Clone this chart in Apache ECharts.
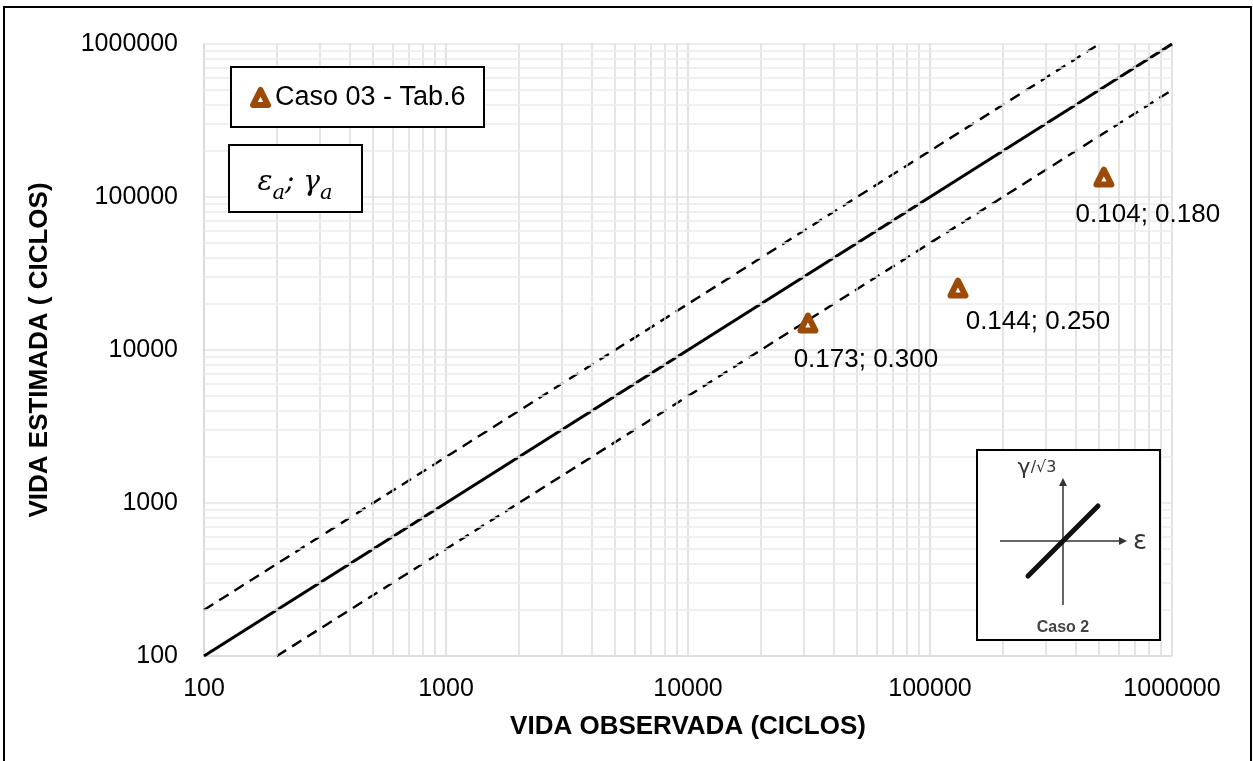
<!DOCTYPE html>
<html>
<head>
<meta charset="utf-8">
<script src="https://cdn.jsdelivr.net/npm/echarts@6/dist/echarts.min.js"></script>
<style>
  html, body { margin: 0; padding: 0; background: #fff; }
  #chart { width: 1253px; height: 761px; }
</style>
</head>
<body>
<div id="chart"></div>
<script>
// Observed vs. estimated fatigue life (cycles), log-log
const seriesName = 'Caso 03 - Tab.6';
const observedLife = [31300, 130500, 523000];
const estimatedLife = [15000, 25400, 135000];
const pointLabels = ['0.173; 0.300', '0.144; 0.250', '0.104; 0.180'];

// reference lines: 1:1 and factor-of-two bands
const lineEqual = [[100, 100], [1000000, 1000000]];
const lineUpper = [[100, 200], [500000, 1000000]];
const lineLower = [[200, 100], [1000000, 500000]];

// decades and in-decade multipliers for the minor grid
const decades = [100, 1000, 10000, 100000];
const minorSteps = [2, 3, 4, 5, 6, 7, 8, 9];

const axisTitleX = 'VIDA OBSERVADA (CICLOS)';
const axisTitleY = 'VIDA ESTIMADA ( CICLOS)';

// label placement relative to each marker centre
const labelOffsets = [[58, 40], [80, 37], [44, 41]];

const brown = '#9C4A08';
const font = "'Liberation Sans', Arial, sans-serif";
const markerSize = 15;

const markerStyle = { color: '#fff', borderColor: brown, borderWidth: 6, borderJoin: 'round', opacity: 1 };

const minorValues = [];
decades.forEach(d => minorSteps.forEach(m => minorValues.push(d * m)));

const gridLines = [].concat(
  minorValues.map(v => ({ xAxis: v, lineStyle: { color: '#dcdcdc' } })),
  minorValues.map(v => ({ yAxis: v, lineStyle: { color: '#ebebeb' } }))
);

const chart = echarts.init(document.getElementById('chart'));

const fmt = v => String(Math.round(v));

chart.setOption({
  animation: false,
  backgroundColor: '#fff',
  grid: { left: 204, right: 81, top: 44, bottom: 105, containLabel: false },
  legend: {
    data: [{ name: seriesName, icon: 'triangle', itemStyle: markerStyle }],
    left: 231, top: 67,
    orient: 'horizontal',
    padding: [17, 18, 17, 19],
    borderWidth: 0,
    itemWidth: 15, itemHeight: 15,
    textStyle: { fontFamily: font, fontSize: 27, color: '#000', padding: [0, 0, 0, 2] },
    selectedMode: false,
    z: 12
  },
  xAxis: {
    type: 'log', logBase: 10, min: 100, max: 1000000,
    name: axisTitleX, nameLocation: 'middle', nameGap: 58,
    nameTextStyle: { fontFamily: font, fontSize: 26, fontWeight: 'bold', color: '#000' },
    axisLine: { lineStyle: { color: '#d9d9d9', width: 1.5 } },
    axisTick: { show: false },
    axisLabel: { formatter: fmt, fontFamily: font, fontSize: 25, color: '#000', margin: 21 },
    splitLine: { show: true, lineStyle: { color: '#d9d9d9', width: 1.5 } }
  },
  yAxis: {
    type: 'log', logBase: 10, min: 100, max: 1000000,
    name: axisTitleY, nameLocation: 'middle', nameGap: 151, nameRotate: 90,
    nameTextStyle: { fontFamily: font, fontSize: 26, fontWeight: 'bold', color: '#000' },
    axisLine: { show: true, lineStyle: { color: '#d9d9d9', width: 1.5 } },
    axisTick: { show: false },
    axisLabel: { formatter: fmt, fontFamily: font, fontSize: 25, color: '#000', margin: 26 },
    splitLine: { show: true, lineStyle: { color: '#e4e4e4', width: 1.5 } }
  },
  series: [
    {
      // minor grid
      type: 'line', data: [], z: 1, silent: true,
      markLine: {
        silent: true, symbol: 'none', animation: false,
        label: { show: false },
        lineStyle: { type: 'solid', width: 1.5 },
        emphasis: { disabled: true },
        data: gridLines
      }
    },
    {
      type: 'line', data: lineEqual, z: 3, symbol: 'none', silent: true,
      lineStyle: { color: '#000', width: 3 }
    },
    {
      type: 'line', data: lineUpper, z: 3, symbol: 'none', silent: true,
      lineStyle: { color: '#000', width: 2.4, type: [11, 7] }
    },
    {
      type: 'line', data: lineLower, z: 3, symbol: 'none', silent: true,
      lineStyle: { color: '#000', width: 2.4, type: [11, 7] }
    },
    {
      name: seriesName,
      type: 'scatter', z: 5,
      symbol: 'triangle', symbolSize: markerSize,
      itemStyle: markerStyle,
      emphasis: { disabled: true },
      data: observedLife.map((x, i) => ({
        value: [x, estimatedLife[i]],
        label: {
          show: true, formatter: pointLabels[i], position: 'top', distance: 0,
          align: 'center', verticalAlign: 'middle',
          offset: [labelOffsets[i][0], labelOffsets[i][1] + markerSize / 2],
          fontFamily: font, fontSize: 26, color: '#000', textBorderWidth: 0
        }
      }))
    }
  ],
  graphic: [
    // outer frame
    { type: 'rect', shape: { x: 4, y: 7, width: 1247, height: 765 }, style: { fill: null, stroke: '#000', lineWidth: 2 }, silent: true },
    // legend frame
    { type: 'rect', shape: { x: 231, y: 67, width: 253, height: 60 }, style: { fill: '#fff', stroke: '#000', lineWidth: 2 }, z: 10 },
    // strain / shear label box
    { type: 'rect', shape: { x: 229, y: 145, width: 133, height: 67 }, style: { fill: '#fff', stroke: '#000', lineWidth: 2 }, z: 10 },
    {
      type: 'text', x: 295, y: 180, z: 11,
      style: {
        text: '{g|ε}{s|a}{g|; γ}{s|a}',
        align: 'center', verticalAlign: 'middle',
        rich: {
          g: { fontFamily: "'DejaVu Serif', serif", fontStyle: 'italic', fontSize: 28, fill: '#000', verticalAlign: 'bottom', lineHeight: 34 },
          s: { fontFamily: "'DejaVu Serif', serif", fontStyle: 'italic', fontSize: 21, fill: '#000', verticalAlign: 'bottom', lineHeight: 34, padding: [0, 0, -7, 0] }
        }
      }
    },
    // loading path inset
    { type: 'rect', shape: { x: 977, y: 450, width: 183, height: 190 }, style: { fill: '#fff', stroke: '#000', lineWidth: 2 }, z: 10 },
    { type: 'line', shape: { x1: 1000, y1: 541, x2: 1122, y2: 541 }, style: { stroke: '#333', lineWidth: 1.5 }, z: 11 },
    { type: 'polygon', shape: { points: [[1127, 541], [1119, 537], [1119, 545]] }, style: { fill: '#333' }, z: 11 },
    { type: 'line', shape: { x1: 1063, y1: 484, x2: 1063, y2: 605 }, style: { stroke: '#333', lineWidth: 1.5 }, z: 11 },
    { type: 'polygon', shape: { points: [[1063, 478], [1059, 486], [1067, 486]] }, style: { fill: '#333' }, z: 11 },
    { type: 'line', shape: { x1: 1028, y1: 576, x2: 1098, y2: 506 }, style: { stroke: '#111', lineWidth: 5, lineCap: 'round' }, z: 12 },
    { type: 'text', x: 1140, y: 542, z: 12, style: { text: 'ε', fontFamily: "'DejaVu Sans', sans-serif", fontSize: 26, fill: '#333', align: 'center', verticalAlign: 'middle' } },
    {
      type: 'text', x: 1037, y: 468, z: 12,
      style: {
        text: '{a|γ}{b|/√3}',
        align: 'center', verticalAlign: 'middle',
        rich: {
          a: { fontFamily: "'DejaVu Sans', sans-serif", fontSize: 22, fill: '#333' },
          b: { fontFamily: "'DejaVu Sans', sans-serif", fontSize: 16, fill: '#333' }
        }
      }
    },
    { type: 'text', x: 1063, y: 628, z: 12, style: { text: 'Caso 2', fontFamily: font, fontSize: 16, fontWeight: 'bold', fill: '#444', align: 'center', verticalAlign: 'middle' } }
  ]
});
</script>
</body>
</html>
